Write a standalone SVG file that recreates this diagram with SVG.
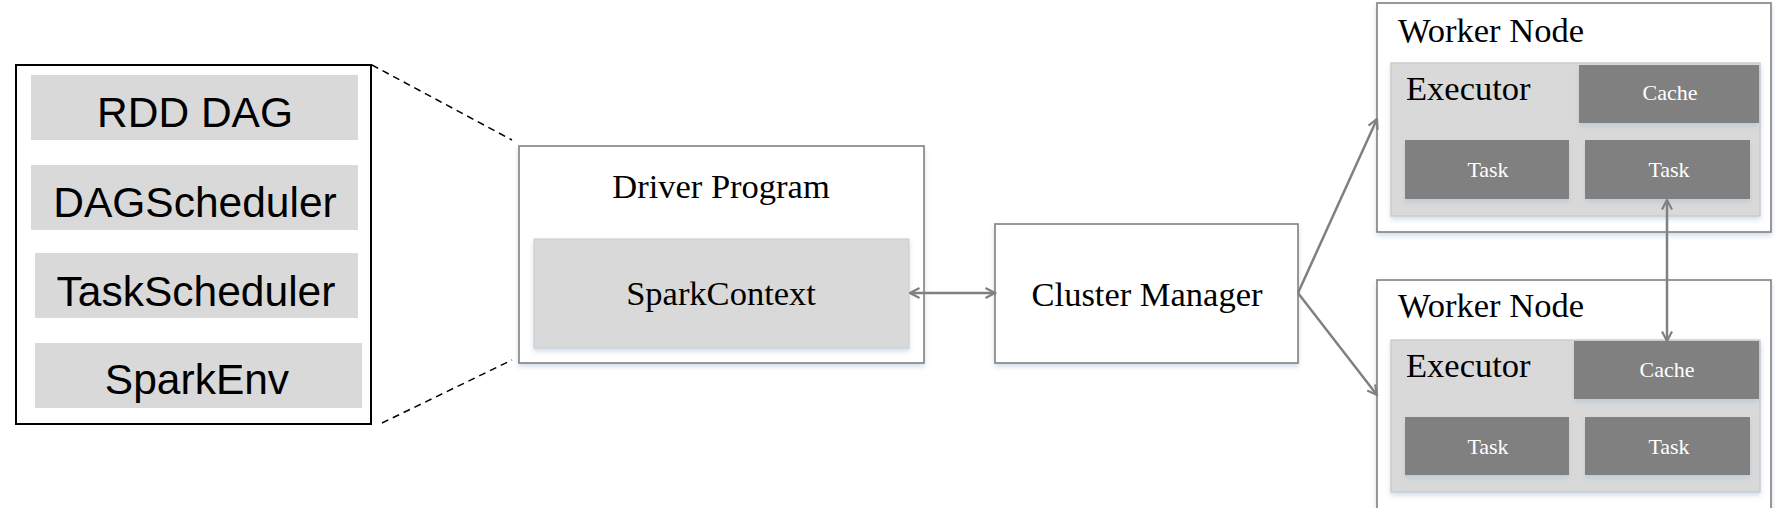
<svg xmlns="http://www.w3.org/2000/svg" width="1784" height="508" viewBox="0 0 1784 508">
  <style>
    .sans { font-family: "Liberation Sans", Arial, sans-serif; font-size: 42.5px; fill: #000; text-anchor: middle; }
    .serif { font-family: "Liberation Serif", "Times New Roman", serif; font-size: 34.5px; fill: #000; }
    .small { font-family: "Liberation Serif", "Times New Roman", serif; font-size: 22px; fill: #fff; text-anchor: middle; }
    .mid { text-anchor: middle; }
    .lightbox { fill: #d9d9d9; }
    .frame { fill: #fff; stroke: #808080; stroke-width: 1.6; }
    .exec { fill: #d9d9d9; stroke: #c6c6c6; stroke-width: 1.2; }
    .dark { fill: #808080; }
    .conn { stroke: #808080; stroke-width: 2.5; fill: none; }
    .dash { stroke: #000; stroke-width: 1.5; stroke-dasharray: 7 5; fill: none; }
  </style>
  <defs>
    <filter id="sh" x="-10%" y="-10%" width="120%" height="130%">
      <feDropShadow dx="0" dy="3" stdDeviation="2.5" flood-color="#9fb6cf" flood-opacity="0.45"/>
    </filter>
    <marker id="ah" viewBox="0 0 12 12" refX="10.5" refY="6" markerWidth="12" markerHeight="12" markerUnits="userSpaceOnUse" orient="auto-start-reverse">
      <path d="M1,1 L10.5,6 L1,11" fill="none" stroke="#808080" stroke-width="2.2"/>
    </marker>
  </defs>
  <rect x="0" y="0" width="1784" height="508" fill="#fff"/>

  <g id="driver-internals">
    <rect x="16" y="65" width="355" height="359" fill="#fff" stroke="#000" stroke-width="2"/>
    <rect class="lightbox" x="31" y="75" width="327" height="65"/>
    <text class="sans" x="195" y="127">RDD DAG</text>
    <rect class="lightbox" x="31" y="165" width="327" height="65"/>
    <text class="sans" x="195" y="217">DAGScheduler</text>
    <rect class="lightbox" x="35" y="253" width="323" height="65"/>
    <text class="sans" x="196" y="306">TaskScheduler</text>
    <rect class="lightbox" x="35" y="343" width="327" height="65"/>
    <text class="sans" x="197" y="394">SparkEnv</text>
  </g>

  <g id="driver-program">
    <rect class="frame" x="519" y="146" width="405" height="217" filter="url(#sh)"/>
    <text class="serif mid" x="721" y="198">Driver Program</text>
  </g>

  <g id="spark-context">
    <rect x="534" y="239" width="375" height="109" fill="#d9d9d9" stroke="#cccccc" stroke-width="1" filter="url(#sh)"/>
    <text class="serif mid" x="721" y="305">SparkContext</text>
  </g>

  <g id="cluster-manager">
    <rect class="frame" x="995" y="224" width="303" height="139" filter="url(#sh)"/>
    <text class="serif mid" x="1147" y="306">Cluster Manager</text>
  </g>

  <g id="worker-node-1">
    <rect class="frame" x="1377" y="3" width="394" height="229" filter="url(#sh)"/>
    <text class="serif" x="1398" y="42">Worker Node</text>
    <rect class="exec" x="1391" y="63" width="369" height="153" filter="url(#sh)"/>
    <text class="serif" x="1406" y="100">Executor</text>
    <rect class="dark" x="1579" y="65" width="180" height="58" filter="url(#sh)"/>
    <text class="small" x="1670" y="100">Cache</text>
    <rect class="dark" x="1405" y="140" width="164" height="59" filter="url(#sh)"/>
    <text class="small" x="1488" y="177">Task</text>
    <rect class="dark" x="1585" y="140" width="165" height="59" filter="url(#sh)"/>
    <text class="small" x="1669" y="177">Task</text>
  </g>

  <g id="worker-node-2">
    <rect class="frame" x="1377" y="280" width="394" height="240" filter="url(#sh)"/>
    <text class="serif" x="1398" y="317">Worker Node</text>
    <rect class="exec" x="1391" y="340" width="369" height="152" filter="url(#sh)"/>
    <text class="serif" x="1406" y="377">Executor</text>
    <rect class="dark" x="1574" y="341" width="185" height="58" filter="url(#sh)"/>
    <text class="small" x="1667" y="377">Cache</text>
    <rect class="dark" x="1405" y="417" width="164" height="58" filter="url(#sh)"/>
    <text class="small" x="1488" y="454">Task</text>
    <rect class="dark" x="1585" y="417" width="165" height="58" filter="url(#sh)"/>
    <text class="small" x="1669" y="454">Task</text>
  </g>

  <g id="connectors">
    <line class="dash" x1="372" y1="65" x2="512" y2="140"/>
    <line class="dash" x1="382" y1="423" x2="512" y2="360"/>
    <line class="conn" x1="910" y1="293" x2="995" y2="293" marker-start="url(#ah)" marker-end="url(#ah)"/>
    <line class="conn" x1="1298" y1="293" x2="1377" y2="119" marker-end="url(#ah)"/>
    <line class="conn" x1="1298" y1="293" x2="1377" y2="395" marker-end="url(#ah)"/>
    <line class="conn" x1="1667" y1="200" x2="1667" y2="341" marker-start="url(#ah)" marker-end="url(#ah)"/>
  </g>
</svg>
